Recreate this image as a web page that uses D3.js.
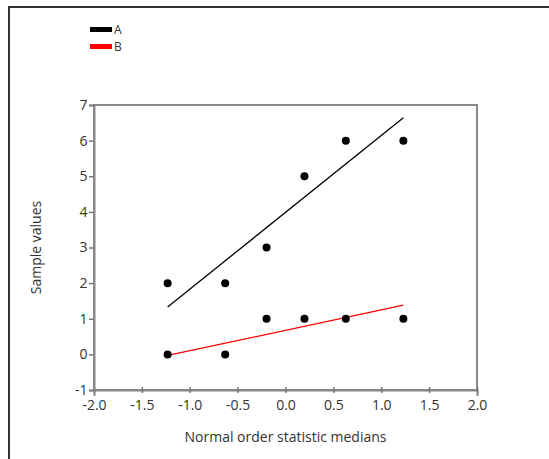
<!DOCTYPE html>
<html>
<head>
<meta charset="utf-8">
<script src="https://cdn.jsdelivr.net/npm/d3@7"></script>
<style>
  body { margin: 0; background: #fff; }
  text { font-family: "Open Sans", "Noto Sans", sans-serif; fill: #333; }
</style>
</head>
<body>
<div id="chart"></div>
<script>
// Data
var seriesNames = ["A", "B"];
var seriesColors = ["#000000", "#ff0000"];
var medians = [-1.231, -0.630, -0.198, 0.198, 0.630, 1.231];
var valuesA = [2, 2, 3, 5, 6, 6];
var valuesB = [0, 0, 1, 1, 1, 1];
// fitted lines, end points at the outer medians
var fitX = [-1.231, 1.231];
var fitA = [1.33, 6.64];
var fitB = [-0.03, 1.38];
var xTicks = [-2.0, -1.5, -1.0, -0.5, 0.0, 0.5, 1.0, 1.5, 2.0];
var yTicks = [-1, 0, 1, 2, 3, 4, 5, 6, 7];

var svgWidth = 549;
var svgHeight = 459;

var margin = { top: 105, right: 72, bottom: 69, left: 94 };
var width = svgWidth - margin.left - margin.right;
var height = svgHeight - margin.top - margin.bottom;

var svg = d3.select("#chart")
    .append("svg")
    .attr("width", svgWidth)
    .attr("height", svgHeight);

// outer frame
svg.append("path")
    .attr("d", "M9,459 L9,7 L549,7")
    .attr("fill", "none")
    .attr("stroke", "#333")
    .attr("stroke-width", 2);

var chartGroup = svg.append("g")
    .attr("transform", `translate(${margin.left}, ${margin.top})`);

var xScale = d3.scaleLinear().domain([-2, 2]).range([0, width]);
var yScale = d3.scaleLinear().domain([-1, 7]).range([height, 0]);

// plot box
chartGroup.append("rect")
    .attr("x", 0).attr("y", 0)
    .attr("width", width).attr("height", height)
    .attr("fill", "none")
    .attr("stroke", "#888")
    .attr("stroke-width", 2);

var bottomAxis = d3.axisBottom(xScale)
    .tickValues(xTicks)
    .tickFormat(d => d.toFixed(1))
    .tickSizeOuter(0)
    .tickSize(6);
var leftAxis = d3.axisLeft(yScale)
    .tickValues(yTicks)
    .tickFormat(d => String(d))
    .tickSizeOuter(0)
    .tickSize(5);

var xg = chartGroup.append("g")
    .attr("transform", `translate(0, ${height})`)
    .call(bottomAxis);
xg.selectAll(".tick line").attr("transform", "translate(0,-3)");
var yg = chartGroup.append("g").call(leftAxis);

[xg, yg].forEach(function(g) {
    g.attr("font-size", 14).attr("font-family", "'Open Sans', sans-serif");
    g.select(".domain").attr("stroke", "#888").attr("stroke-width", 2);
    g.selectAll(".tick line").attr("stroke", "#777").attr("stroke-width", 1.5);
    g.selectAll(".tick text").attr("fill", "#333");
});
xg.selectAll(".tick text").attr("dy", "0.8em");
yg.selectAll(".tick text").attr("dx", "0.1em");

// fit lines
var fits = [fitA, fitB];
fits.forEach(function(f, i) {
    chartGroup.append("line")
        .attr("x1", xScale(fitX[0])).attr("y1", yScale(f[0]))
        .attr("x2", xScale(fitX[1])).attr("y2", yScale(f[1]))
        .attr("stroke", seriesColors[i])
        .attr("stroke-width", 1.3);
});

// points
[valuesA, valuesB].forEach(function(vals) {
    chartGroup.selectAll(null)
        .data(vals)
        .enter()
        .append("circle")
        .attr("cx", (d, j) => xScale(medians[j]))
        .attr("cy", d => yScale(d))
        .attr("r", 4)
        .attr("fill", "#000");
});

// legend
seriesNames.forEach(function(name, i) {
    var ly = 30 + i * 17;
    svg.append("rect")
        .attr("x", 90).attr("y", ly - 3)
        .attr("width", 22).attr("height", 5)
        .attr("fill", seriesColors[i]);
    svg.append("text")
        .attr("x", 114).attr("y", ly + 4)
        .attr("font-size", "12px")
        .text(name);
});

// axis labels
svg.append("text")
    .attr("transform", `translate(41, ${margin.top + height / 2}) rotate(-90)`)
    .attr("text-anchor", "middle")
    .attr("font-size", "14px")
    .text("Sample values");

svg.append("text")
    .attr("x", margin.left + width / 2)
    .attr("y", 442)
    .attr("text-anchor", "middle")
    .attr("font-size", "14px")
    .text("Normal order statistic medians");
</script>
</body>
</html>
